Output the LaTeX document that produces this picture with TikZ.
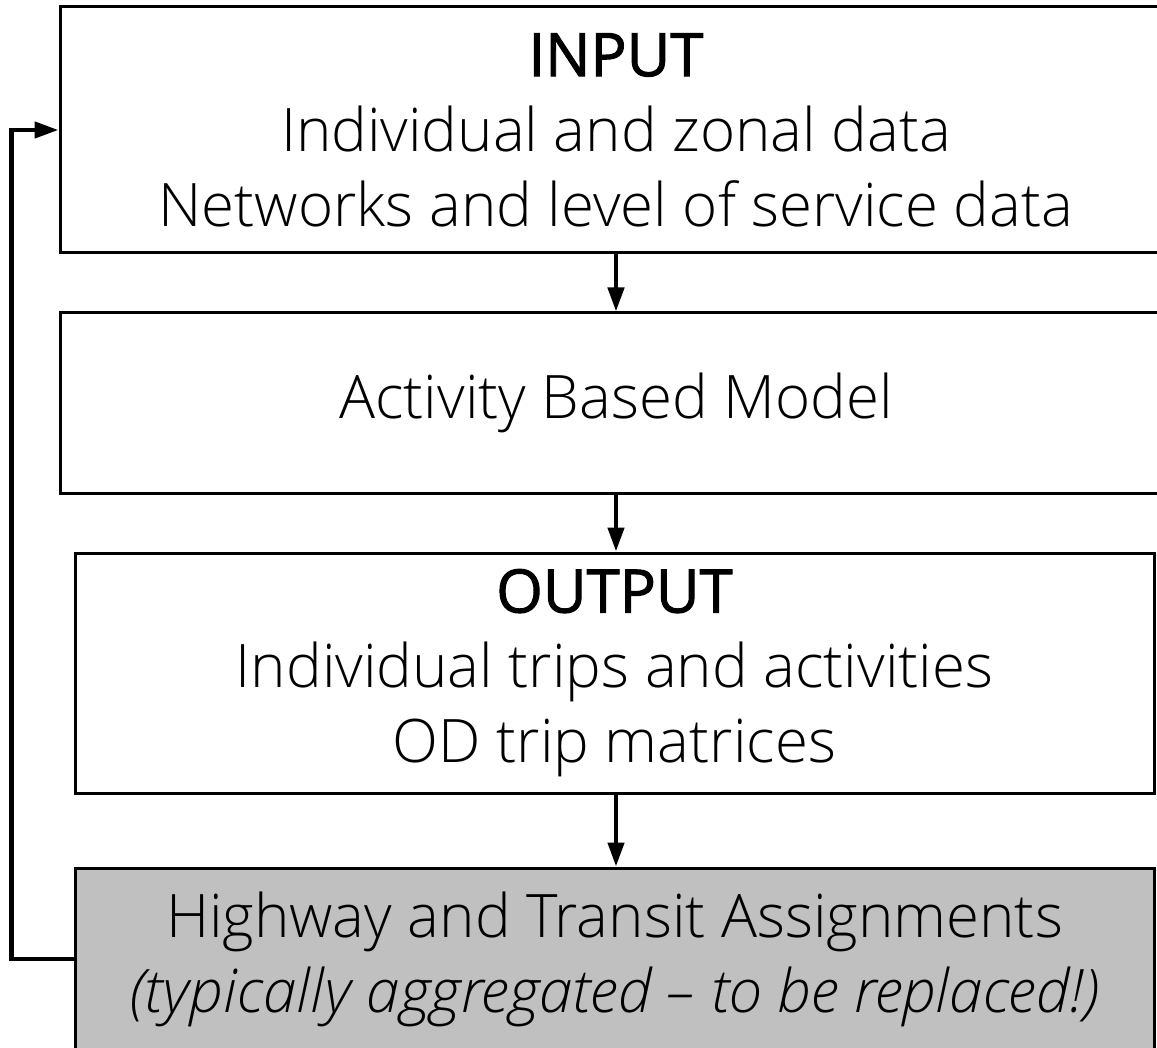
\documentclass[tikz,border=0pt]{standalone}
\usepackage{fontspec}
\setmainfont{Open Sans}[UprightFont=* Light, ItalicFont=* Light Italic, BoldFont=*,
    BoldFeatures={FakeBold=1.6}]
\usetikzlibrary{arrows.meta, positioning}

\begin{document}
\begin{tikzpicture}[
    x=1pt, y=-1pt,
    every node/.style={draw, line width=3pt, align=center, inner sep=0pt,
        font=\fontsize{60}{75}\selectfont},
    flow/.style={line width=4.5pt, -{Triangle[length=24pt, width=16pt]}}
]

\useasboundingbox (0,0) rectangle (1157,1048);
\clip (0,0) rectangle (1157,1048);

\node (input) [minimum width=1112pt, minimum height=246pt] at (616,130)
    {\textbf{INPUT}\\Individual and zonal data\\Networks and level of service data};
\node (abm) [minimum width=1112pt, minimum height=180pt] at (616,403)
    {Activity Based Model};
\node (output) [minimum width=1079pt, minimum height=240pt] at (614.5,673)
    {\textbf{OUTPUT}\\Individual trips and activities\\OD trip matrices};
\node (assign) [fill={rgb,255:red,192;green,192;blue,192}, minimum width=1079pt,
    minimum height=182pt] at (614.5,959)
    {Highway and Transit Assignments\\\textit{(typically aggregated -- to be replaced!)}};

\draw[flow] (input.south -| 616,0) -- (abm.north -| 616,0);
\draw[flow] (abm.south -| 616,0) -- (output.north -| 616,0);
\draw[flow] (output.south -| 616,0) -- (assign.north -| 616,0);

\draw[flow] (assign.west) -- ++(-62,0) |- (input.west);

\end{tikzpicture}
\end{document}
